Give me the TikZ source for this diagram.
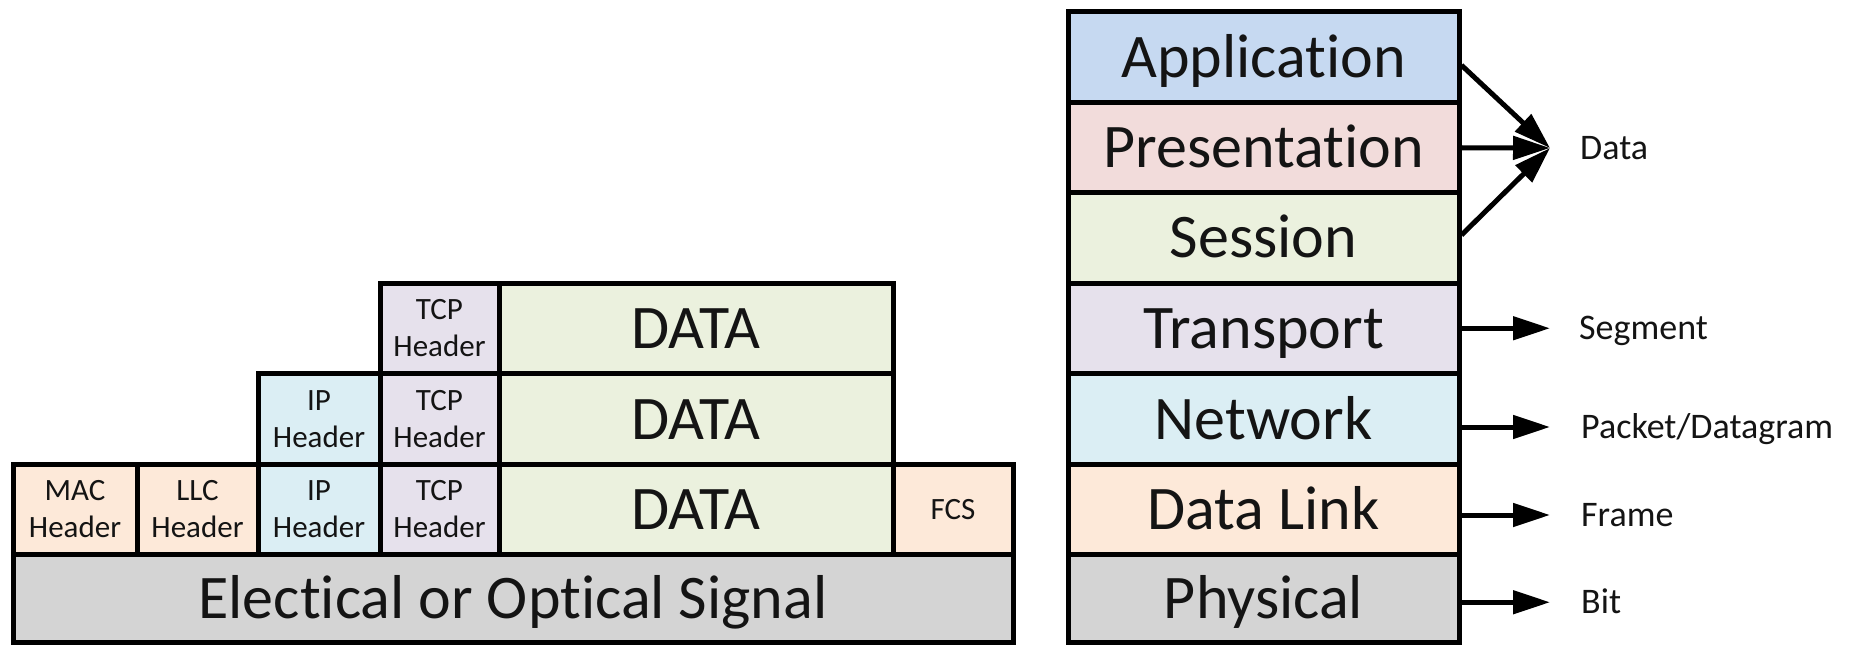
\documentclass[tikz,border=0pt]{standalone}
\usepackage{fontspec}
\setmainfont{Carlito}[Ligatures=CommonOff]
\usetikzlibrary{arrows.meta,positioning}

\definecolor{ink}{HTML}{141414}
\definecolor{appc}{HTML}{C6D9F1}
\definecolor{presc}{HTML}{F2DCDB}
\definecolor{sessc}{HTML}{EBF1DE}
\definecolor{transc}{HTML}{E6E1EC}
\definecolor{netc}{HTML}{DBEEF4}
\definecolor{linkc}{HTML}{FDE9D9}
\definecolor{physc}{HTML}{D4D4D4}

\tikzset{
  cell/.style={draw=black, line width=5pt, inner sep=0pt, text=ink},
  big/.style={font=\fontsize{62}{62}\selectfont, text height=40pt, text depth=0pt},
  hdr/.style={font=\fontsize{31}{37}\selectfont, align=center},
  tag/.style={font=\fontsize{36}{36}\selectfont, text=ink, inner sep=0pt,
              text height=23pt, text depth=0pt},
  arr/.style={line width=5pt, -{Triangle[length=37pt,width=23pt]}}
}

% box named #1 with options #2 spanning (#3,#4)--(#5,#6), label #7
\newcommand\cellat[7]{%
  \pgfmathsetmacro\cellw{#5-#3}%
  \pgfmathsetmacro\cellh{#6-#4}%
  \node[cell,#2,minimum width=\cellw pt,minimum height=\cellh pt]
    (#1) at ({(#3+#5)/2},{(#4+#6)/2}) {#7};}

\begin{document}
\begin{tikzpicture}[x=1pt,y=-1pt]
\useasboundingbox (0,0) rectangle (1864,647);

% encapsulation stack
\cellat{tcpA}{fill=transc,hdr}{380}{283}{499}{373.5}{TCP\\Header}
\cellat{dataA}{fill=sessc,big}{499}{283}{893}{373.5}{DATA}

\cellat{ipB}{fill=netc,hdr}{258}{373.5}{380}{464.5}{IP\\Header}
\cellat{tcpB}{fill=transc,hdr}{380}{373.5}{499}{464.5}{TCP\\Header}
\cellat{dataB}{fill=sessc,big}{499}{373.5}{893}{464.5}{DATA}

\cellat{mac}{fill=linkc,hdr}{13}{464.5}{137}{554.5}{MAC\\Header}
\cellat{llc}{fill=linkc,hdr}{137}{464.5}{258}{554.5}{LLC\\Header}
\cellat{ipC}{fill=netc,hdr}{258}{464.5}{380}{554.5}{IP\\Header}
\cellat{tcpC}{fill=transc,hdr}{380}{464.5}{499}{554.5}{TCP\\Header}
\cellat{dataC}{fill=sessc,big}{499}{464.5}{893}{554.5}{DATA}
\cellat{fcs}{fill=linkc,hdr}{893}{464.5}{1013}{554.5}{FCS}

\cellat{sig}{fill=physc,big}{13}{554.5}{1013}{642}{Electical or Optical Signal}

% OSI layers
\cellat{app}{fill=appc,big}{1068}{12}{1459}{102.5}{Application}
\cellat{pres}{fill=presc,big}{1068}{102.5}{1459}{193}{Presentation}
\cellat{sess}{fill=sessc,big}{1068}{193}{1459}{283}{Session}
\cellat{trans}{fill=transc,big}{1068}{283}{1459}{373.5}{Transport}
\cellat{net}{fill=netc,big}{1068}{373.5}{1459}{464.5}{Network}
\cellat{link}{fill=linkc,big}{1068}{464.5}{1459}{554.5}{Data Link}
\cellat{phys}{fill=physc,big}{1068}{554.5}{1459}{642}{Physical}

% protocol data units
\coordinate (datatip) at (1550,148);
\draw[arr] ([yshift=-8pt]app.east) -- (datatip);
\draw[arr] (pres.east) -- (datatip);
\draw[arr] ([yshift=3pt]sess.east) -- (datatip);
\node[tag, right=30pt of datatip] (datalbl) {Data};

\draw[arr] (trans.east) -- ++(88.5,0) coordinate (segtip);
\node[tag, right=29pt of segtip] (seglbl) {Segment};

\draw[arr] ([yshift=-8pt]net.east) -- ++(88.5,0) coordinate (pkttip);
\node[tag, right=31pt of pkttip] (pktlbl) {Packet/Datagram};

\draw[arr] ([yshift=-5.5pt]link.east) -- ++(88.5,0) coordinate (frmtip);
\node[tag, right=31pt of frmtip] (frmlbl) {Frame};

\draw[arr] ([yshift=-4pt]phys.east) -- ++(88.5,0) coordinate (bittip);
\node[tag, right=31pt of bittip] (bitlbl) {Bit};
\end{tikzpicture}
\end{document}
